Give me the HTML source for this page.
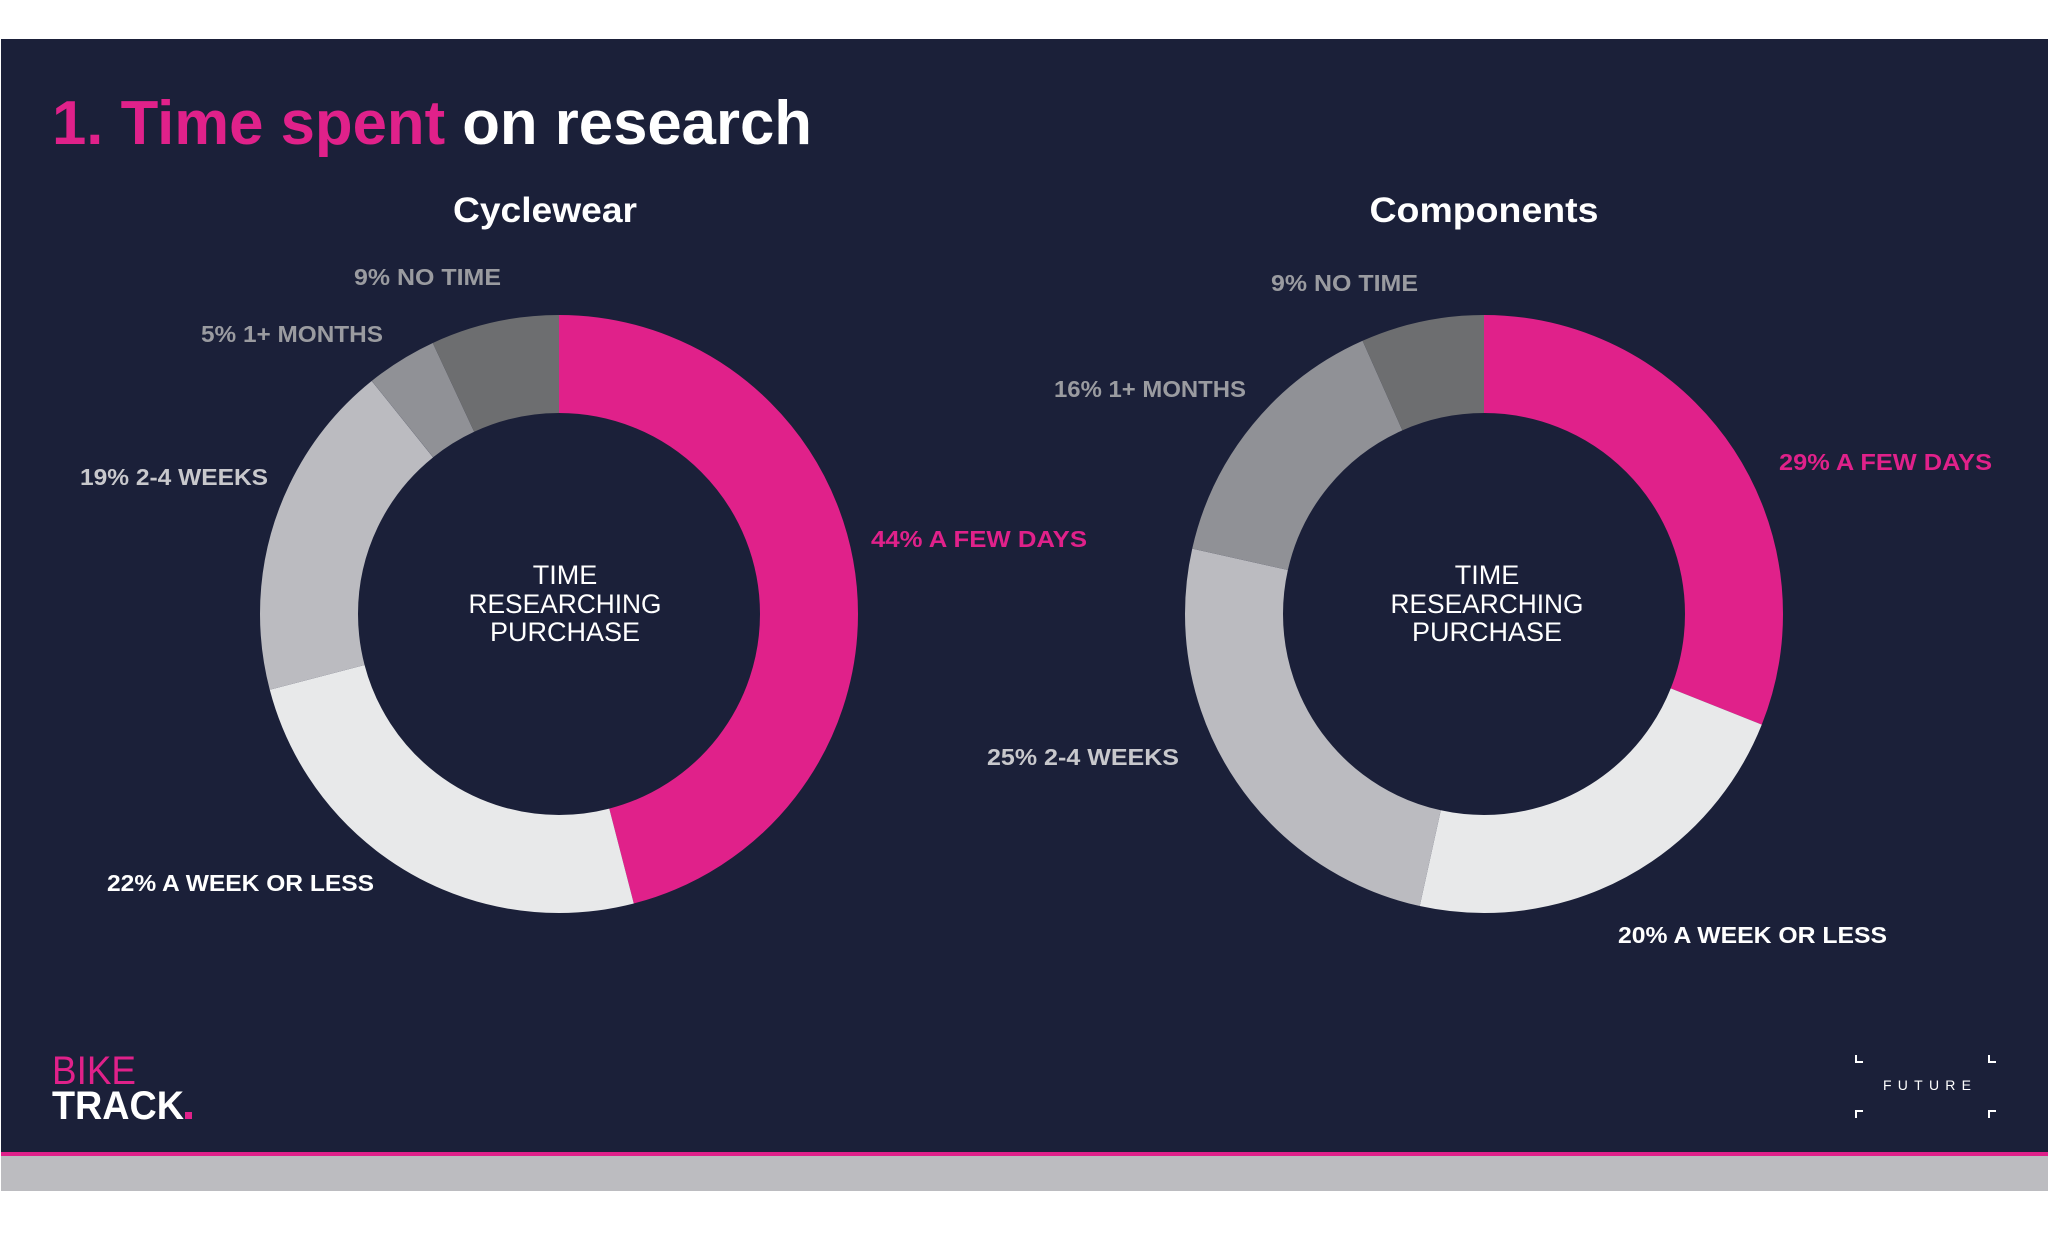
<!DOCTYPE html>
<html><head><meta charset="utf-8"><style>
html,body{margin:0;padding:0;background:#fff;}
svg{display:block;}
text{font-family:"Liberation Sans",Arial,sans-serif;}
</style></head><body>
<svg width="2048" height="1233" viewBox="0 0 2048 1233" xmlns="http://www.w3.org/2000/svg">
<rect x="0" y="0" width="2048" height="1233" fill="#fff"/>
<rect x="1" y="39" width="2047" height="1114" fill="#1b2039"/>
<rect x="1" y="1152" width="2047" height="4" fill="#e0218a"/>
<rect x="1" y="1156" width="2047" height="35" fill="#bcbcc0"/>

<text x="52" y="144" font-size="62" font-weight="bold" textLength="760" lengthAdjust="spacingAndGlyphs"><tspan fill="#e0218a">1. Time spent</tspan><tspan fill="#fff"> on research</tspan></text>

<text x="545" y="222" font-size="35" font-weight="bold" fill="#fff" text-anchor="middle" textLength="184" lengthAdjust="spacingAndGlyphs">Cyclewear</text>
<text x="1484" y="222" font-size="35" font-weight="bold" fill="#fff" text-anchor="middle" textLength="229" lengthAdjust="spacingAndGlyphs">Components</text>

<g fill="none" stroke-width="98">
<g transform="rotate(-90 559 614)">
<circle cx="559" cy="614" r="250" stroke="#e0218a" stroke-dasharray="722.1 1570.8" stroke-dashoffset="0"/>
<circle cx="559" cy="614" r="250" stroke="#e8e9ea" stroke-dasharray="391.8 1570.8" stroke-dashoffset="-722.1"/>
<circle cx="559" cy="614" r="250" stroke="#bbbbc0" stroke-dasharray="287.5 1570.8" stroke-dashoffset="-1113.9"/>
<circle cx="559" cy="614" r="250" stroke="#909196" stroke-dasharray="60.2 1570.8" stroke-dashoffset="-1401.5"/>
<circle cx="559" cy="614" r="250" stroke="#6d6e70" stroke-dasharray="109.1 1570.8" stroke-dashoffset="-1461.7"/>
</g>
<g transform="rotate(-90 1484 614)">
<circle cx="1484" cy="614" r="250" stroke="#e0218a" stroke-dasharray="487.4 1570.8" stroke-dashoffset="0"/>
<circle cx="1484" cy="614" r="250" stroke="#e8e9ea" stroke-dasharray="352.1 1570.8" stroke-dashoffset="-487.4"/>
<circle cx="1484" cy="614" r="250" stroke="#bbbbc0" stroke-dasharray="393.6 1570.8" stroke-dashoffset="-839.5"/>
<circle cx="1484" cy="614" r="250" stroke="#909196" stroke-dasharray="233.0 1570.8" stroke-dashoffset="-1233.1"/>
<circle cx="1484" cy="614" r="250" stroke="#6d6e70" stroke-dasharray="104.7 1570.8" stroke-dashoffset="-1466.1"/>
</g>
</g>

<g font-size="27" fill="#fff" text-anchor="middle">
<text x="565" y="584">TIME</text>
<text x="565" y="613" textLength="193" lengthAdjust="spacingAndGlyphs">RESEARCHING</text>
<text x="565" y="641">PURCHASE</text>
<text x="1487" y="584">TIME</text>
<text x="1487" y="613" textLength="193" lengthAdjust="spacingAndGlyphs">RESEARCHING</text>
<text x="1487" y="641">PURCHASE</text>
</g>

<g font-size="23" font-weight="bold" lengthAdjust="spacingAndGlyphs">
<text x="354" y="285" fill="#9a9ba0" textLength="147" lengthAdjust="spacingAndGlyphs">9% NO TIME</text>
<text x="201" y="342" fill="#9a9ba0" textLength="182" lengthAdjust="spacingAndGlyphs">5% 1+ MONTHS</text>
<text x="80" y="485" fill="#c8c8cc" textLength="188" lengthAdjust="spacingAndGlyphs">19% 2-4 WEEKS</text>
<text x="871" y="547" fill="#e0218a" textLength="216" lengthAdjust="spacingAndGlyphs">44% A FEW DAYS</text>
<text x="107" y="891" fill="#ffffff" textLength="267" lengthAdjust="spacingAndGlyphs">22% A WEEK OR LESS</text>
<text x="1271" y="291" fill="#9a9ba0" textLength="147" lengthAdjust="spacingAndGlyphs">9% NO TIME</text>
<text x="1054" y="397" fill="#9a9ba0" textLength="192" lengthAdjust="spacingAndGlyphs">16% 1+ MONTHS</text>
<text x="1779" y="470" fill="#e0218a" textLength="213" lengthAdjust="spacingAndGlyphs">29% A FEW DAYS</text>
<text x="987" y="765" fill="#c8c8cc" textLength="192" lengthAdjust="spacingAndGlyphs">25% 2-4 WEEKS</text>
<text x="1618" y="943" fill="#ffffff" textLength="269" lengthAdjust="spacingAndGlyphs">20% A WEEK OR LESS</text>
</g>

<text x="52" y="1084" font-size="40" fill="#e0218a" textLength="84" lengthAdjust="spacingAndGlyphs">BIKE</text>
<text x="52" y="1119" font-size="40" font-weight="bold" fill="#fff" textLength="132" lengthAdjust="spacingAndGlyphs">TRACK</text>
<rect x="185" y="1112" width="7" height="7" fill="#e0218a"/>

<text x="1927" y="1090" font-size="14" fill="#fff" text-anchor="middle" textLength="88" lengthAdjust="spacing">FUTURE</text>
<g stroke="#fff" stroke-width="2" fill="none">
<path d="M1856 1055 V1062 H1863"/>
<path d="M1989 1055 V1062 H1996"/>
<path d="M1856 1118 V1111 H1863"/>
<path d="M1989 1118 V1111 H1996"/>
</g>
</svg>
</body></html>
